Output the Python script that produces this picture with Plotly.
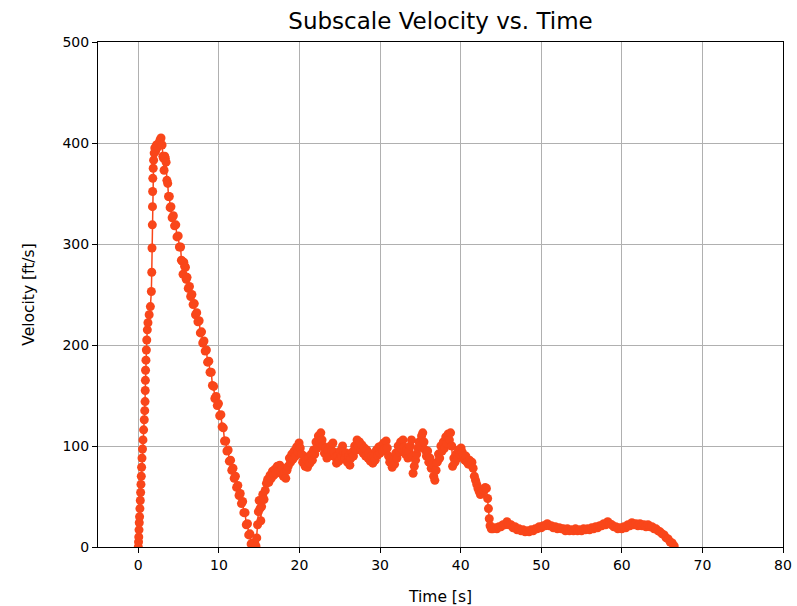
import plotly.graph_objects as go

# ---- data ----
# ascent to apogee
t_ascent = [0.00, 0.03, 0.06, 0.09, 0.12, 0.16, 0.20, 0.25, 0.29, 0.33,
            0.37, 0.41, 0.46, 0.52, 0.58, 0.66, 0.74, 0.80, 0.84, 0.86,
            0.88, 0.90, 0.95, 1.00, 1.05, 1.12, 1.20, 1.35, 1.50, 1.62,
            1.67, 1.70, 1.74, 1.76, 1.78, 1.80, 1.85, 1.90, 1.97, 2.05,
            2.15, 2.25, 2.40, 2.55, 2.70, 2.82]
v_ascent = [0, 5, 10, 17, 24, 30, 38, 46, 54, 62,
            70, 79, 88, 97, 106, 116, 126, 135, 144, 155,
            165, 175, 185, 195, 205, 215, 222, 230, 238, 253,
            272, 296, 319, 337, 352, 365, 375, 383, 390, 395,
            392, 398, 396, 400, 403, 405]

# deceleration down to the trough
t_descent = [2.95, 3.05, 3.12, 3.20, 3.28, 3.35, 3.45, 3.55, 3.65, 3.75,
             3.85, 3.95, 4.05, 4.20, 4.35, 4.50, 4.65, 4.80, 4.95, 5.10,
             5.25, 5.35, 5.45, 5.55, 5.65, 5.75, 5.85, 5.95, 6.05, 6.20,
             6.35, 6.50, 6.65, 6.80, 6.95, 7.10, 7.25, 7.40, 7.55, 7.70,
             7.85, 8.00, 8.15, 8.30, 8.45, 8.60, 8.75, 8.90, 9.05, 9.20,
             9.35, 9.50, 9.65, 9.80, 9.95, 10.10, 10.25, 10.40, 10.55, 10.70,
             10.85, 11.00, 11.15, 11.30, 11.45, 11.60, 11.75, 11.90, 12.05, 12.20,
             12.35, 12.50, 12.65, 12.80, 12.95, 13.10, 13.25, 13.40, 13.55, 13.70,
             13.85, 14.00, 14.15, 14.30]
v_descent = [398, 387, 385, 373, 387, 385, 381, 363, 360, 347,
             347, 336, 337, 326, 328, 318, 319, 307, 308, 297,
             297, 284, 283, 270, 282, 278, 277, 265, 267, 256,
             258, 248, 250, 240, 241, 230, 232, 223, 224, 212,
             213, 202, 204, 194, 195, 183, 184, 173, 173, 160,
             159, 147, 149, 140, 142, 130, 131, 119, 118, 105,
             105, 95, 96, 85, 86, 76, 78, 68, 70, 59,
             61, 51, 53, 43, 45, 34, 34, 22, 23, 12,
             13, 3, 4, 0]

# trough spike
t_trough = [14.45, 14.60, 14.70, 14.80, 14.90, 15.00, 15.10, 15.20, 15.30, 15.45]
v_trough = [4, 1, 9, 22, 35, 46, 38, 26, 40, 52]

# recovery and noisy plateau
t_plateau = [15.60, 15.75, 15.90, 16.05, 16.20, 16.35, 16.50, 16.65, 16.80, 16.95,
             17.10, 17.25, 17.40, 17.55, 17.70, 17.85, 18.00, 18.15, 18.30, 18.45,
             18.60, 18.75, 18.90, 19.05, 19.20, 19.35, 19.50, 19.65, 19.80, 19.95,
             20.10, 20.25, 20.40, 20.55, 20.70, 20.85, 21.00, 21.15, 21.30, 21.45,
             21.60, 21.75, 21.90, 22.05, 22.20, 22.35, 22.50, 22.65, 22.80, 22.95,
             23.10, 23.25, 23.40, 23.55, 23.70, 23.85, 24.00, 24.15, 24.30, 24.45,
             24.60, 24.75, 24.90, 25.05, 25.20, 25.35, 25.50, 25.65, 25.80, 25.95,
             26.10, 26.25, 26.40, 26.55, 26.70, 26.85, 27.00, 27.15, 27.30, 27.45,
             27.60, 27.75, 27.90, 28.05, 28.20, 28.35, 28.50, 28.65, 28.80, 28.95,
             29.10, 29.25, 29.40, 29.55, 29.70, 29.85, 30.00, 30.15, 30.30, 30.45,
             30.60, 30.75, 30.90, 31.05, 31.20, 31.35, 31.50, 31.65, 31.80, 31.95,
             32.10, 32.25, 32.40, 32.55, 32.70, 32.85, 33.00, 33.15, 33.30, 33.45,
             33.60, 33.75, 33.90, 34.00, 34.10, 34.25, 34.40, 34.55, 34.70, 34.85,
             35.00, 35.15, 35.30, 35.45, 35.60, 35.75, 35.90, 36.05, 36.20, 36.35,
             36.50, 36.65, 36.80, 36.95, 37.10, 37.25, 37.40, 37.55, 37.70, 37.85,
             38.00, 38.15, 38.30, 38.45, 38.60, 38.75, 38.90, 39.00, 39.15, 39.30,
             39.45, 39.60, 39.75, 39.90, 40.05, 40.20, 40.35, 40.50, 40.65, 40.80,
             40.95, 41.10, 41.25, 41.40, 41.55, 41.70, 41.85, 42.00, 42.15, 42.30,
             42.45, 42.60, 42.75, 42.90, 43.05, 43.20, 43.35, 43.45, 43.55, 43.65, 43.80]
v_plateau = [47, 56, 63, 67, 64, 71, 68, 75, 71, 77,
             73, 80, 76, 81, 75, 78, 70, 74, 68, 76,
             80, 88, 84, 92, 87, 95, 90, 99, 94, 103,
             98, 92, 84, 90, 80, 87, 79, 88, 83, 92,
             86, 96, 92, 104, 98, 110, 104, 113, 106, 100,
             93, 98, 88, 96, 90, 100, 95, 103, 94, 89,
             83, 90, 85, 95, 90, 100, 94, 88, 93, 84,
             90, 81, 88, 94, 90, 100, 96, 106, 100, 104,
             96, 101, 93, 98, 90, 96, 88, 93, 85, 90,
             83, 90, 86, 96, 91, 99, 93, 100, 95, 103,
             97, 105, 98, 90, 84, 88, 79, 86, 82, 93,
             88, 100, 94, 104, 97, 106, 99, 92, 96, 88,
             95, 100, 106, 90, 73, 80, 86, 92, 98, 104,
             100, 110, 113, 104, 96, 90, 95, 84, 88, 78,
             82, 70, 66, 76, 84, 92, 88, 100, 95, 104,
             98, 109, 103, 112, 106, 113, 100, 80, 88, 84,
             92, 88, 96, 92, 98, 94, 90, 86, 90, 84,
             82, 86, 82, 84, 78, 70, 66, 62, 58, 55,
             52, 53, 57, 56, 59, 58, 48, 38, 28, 21, 18]

# slow descent tail
t_tail = [44.00, 44.25, 44.50, 44.75, 45.00, 45.25, 45.50, 45.75, 46.00, 46.25,
          46.50, 46.75, 47.00, 47.25, 47.50, 47.75, 48.00, 48.25, 48.50, 48.75,
          49.00, 49.25, 49.50, 49.75, 50.00, 50.25, 50.50, 50.75, 51.00, 51.25,
          51.50, 51.75, 52.00, 52.25, 52.50, 52.75, 53.00, 53.25, 53.50, 53.75,
          54.00, 54.25, 54.50, 54.75, 55.00, 55.25, 55.50, 55.75, 56.00, 56.25,
          56.50, 56.75, 57.00, 57.25, 57.50, 57.75, 58.00, 58.25, 58.50, 58.75,
          59.00, 59.25, 59.50, 59.75, 60.00, 60.25, 60.50, 60.75, 61.00, 61.25,
          61.50, 61.75, 62.00, 62.25, 62.50, 62.75, 63.00, 63.25, 63.50, 63.75,
          64.00, 64.25, 64.50, 64.75, 65.00, 65.25, 65.50, 65.75, 66.00, 66.25,
          66.50]
v_tail = [18, 19, 18, 20, 20, 22, 22, 25, 22, 22,
          19, 20, 17, 18, 16, 17, 15, 16, 15, 17,
          16, 18, 18, 20, 19, 21, 21, 23, 21, 21,
          19, 20, 18, 19, 18, 18, 16, 18, 16, 17,
          16, 18, 16, 17, 16, 18, 17, 18, 17, 19,
          18, 20, 19, 21, 21, 23, 22, 25, 23, 22,
          20, 20, 18, 19, 18, 20, 19, 22, 21, 24,
          22, 23, 21, 23, 21, 22, 20, 22, 20, 20,
          18, 18, 16, 15, 13, 12, 9, 8, 5, 4,
          1]

x_ticks = [0, 10, 20, 30, 40, 50, 60, 70, 80]
y_ticks = [0, 100, 200, 300, 400, 500]

time_s = t_ascent + t_descent + t_trough + t_plateau + t_tail
velocity = v_ascent + v_descent + v_trough + v_plateau + v_tail

COLOR = "#f9461a"

fig = go.Figure()
fig.add_trace(go.Scatter(
    x=time_s, y=velocity, mode="lines+markers",
    line=dict(color=COLOR, width=1.5),
    marker=dict(size=9, color=COLOR, line=dict(width=0)),
    showlegend=False, hoverinfo="skip",
))

axis_common = dict(
    automargin=False,
    showgrid=True, gridcolor="#b0b0b0", gridwidth=1,
    showline=True, linecolor="black", linewidth=1, mirror=True,
    ticks="outside", ticklen=5, tickwidth=1, tickcolor="black",
    zeroline=False, tickfont=dict(size=14, color="black"),
)

fig.update_layout(
    template="none",
    width=797, height=606,
    margin=dict(l=98, r=14, t=42, b=59),
    paper_bgcolor="white", plot_bgcolor="white",
    font=dict(family="DejaVu Sans", size=14, color="black"),
    title=dict(text="Subscale Velocity vs. Time", x=0.5, xref="paper", xanchor="center",
               y=1 - 21 / 606, yref="container", yanchor="middle",
               font=dict(size=23, color="black")),
    xaxis=dict(range=[-5, 80], tickvals=x_ticks,
               title=dict(text="Time [s]", font=dict(size=15.5), standoff=22),
               **axis_common),
    yaxis=dict(range=[0, 500], tickvals=y_ticks,
               title=dict(text="Velocity [ft/s]", font=dict(size=15.5), standoff=24),
               **axis_common),
)

fig.write_html("out.html", config={"displayModeBar": False},
               post_script="document.body.style.margin='0';")
